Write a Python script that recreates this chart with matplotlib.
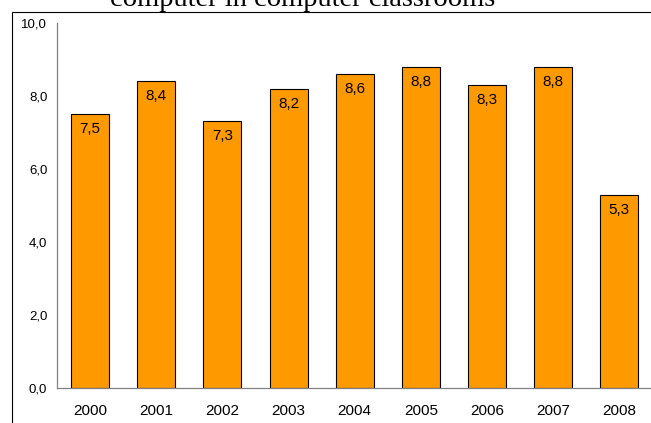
import matplotlib
matplotlib.use("Agg")
import matplotlib.pyplot as plt
from matplotlib.patches import Rectangle

years = ["2000", "2001", "2002", "2003", "2004", "2005", "2006", "2007", "2008"]
values = [7.5, 8.4, 7.3, 8.2, 8.6, 8.8, 8.3, 8.8, 5.3]
yticks = [0, 2, 4, 6, 8, 10]

plt.rcParams['font.family'] = ['Liberation Sans', 'DejaVu Sans']

fig = plt.figure(figsize=(6.51, 4.23), dpi=100)
ax = fig.add_axes([0.0876, 0.082, 0.9145, 0.8643])

x = range(len(years))
bars = ax.bar(x, values, width=0.575, color='#FF9900', edgecolor='black', linewidth=0.8)

# value labels sit just inside the top of each bar, decimal comma
for rect, v in zip(bars, values):
    ax.annotate(f"{v:.1f}".replace('.', ','),
                xy=(rect.get_x() + rect.get_width() / 2, rect.get_height()),
                xytext=(0, -10.8), textcoords='offset points',
                ha='center', va='center', fontsize=11)

ax.set_xlim(-0.5, 8.5)
ax.set_ylim(0, 10)
ax.set_xticks(list(x))
ax.set_xticklabels(years, fontsize=11)
ax.set_yticks(yticks)
ax.set_yticklabels([f"{t:.1f}".replace('.', ',') for t in yticks], fontsize=9.5)
ax.tick_params(axis='x', length=0, pad=11)
ax.tick_params(axis='y', length=0, pad=7)

for side in ['top', 'right']:
    ax.spines[side].set_visible(False)
for side in ['left', 'bottom']:
    ax.spines[side].set_color('#808080')
    ax.spines[side].set_linewidth(0.9)

# outer frame around the chart area
fig.patches.append(Rectangle((12 / 651, -0.2), 1.2, 0.2 + 1 - 11.7 / 423,
                             transform=fig.transFigure, fill=False,
                             edgecolor='black', linewidth=0.8, clip_on=False))

fig.text(0.4654, 0.9865, "computer in computer classrooms",
         ha='center', va='baseline', fontsize=20.5, family='Liberation Serif')

fig.savefig("out.png", dpi=100)
